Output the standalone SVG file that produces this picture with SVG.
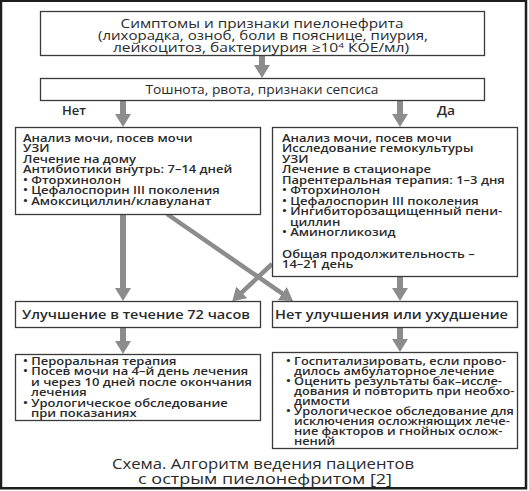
<svg xmlns="http://www.w3.org/2000/svg" width="529" height="491" viewBox="0 0 529 491">
<style>
.box{fill:#fff;stroke:#3a3a3a;stroke-width:1.3}
.t{font-family:"Open Sans","Noto Sans","Liberation Sans",sans-serif;fill:#2a2a2a}
.h{font-size:12.5px}
.c{text-anchor:middle}
.s{font-size:11px;font-weight:600}
.m{font-size:13px;font-weight:600}
.cap{font-size:14px}
.arr{stroke:#8c8c8c;stroke-width:6;fill:none}
.darr{stroke:#8c8c8c;stroke-width:4.5;fill:none}
</style>
<defs>
<marker id="ah" markerUnits="userSpaceOnUse" markerWidth="14" markerHeight="17" refX="2" refY="8" orient="auto" viewBox="0 0 14 16">
<path d="M0,0 L13,8 L0,16 z" fill="#8c8c8c"/>
</marker>
</defs>
<rect width="529" height="491" fill="#fff"/>
<rect x="1" y="0.75" width="525" height="487.5" fill="#fff" stroke="#1e1e1e" stroke-width="2.5"/>
<g id="connectors">
<line class="arr" x1="262" y1="55" x2="262" y2="67" marker-end="url(#ah)"/>
<line class="arr" x1="123" y1="101" x2="123" y2="116" marker-end="url(#ah)"/>
<line class="arr" x1="400" y1="101" x2="400" y2="116" marker-end="url(#ah)"/>
<line class="arr" x1="123" y1="214" x2="123" y2="290" marker-end="url(#ah)"/>
<line class="arr" x1="400" y1="276" x2="400" y2="290" marker-end="url(#ah)"/>
<line class="arr" x1="123" y1="327" x2="123" y2="343" marker-end="url(#ah)"/>
<line class="arr" x1="400" y1="327" x2="400" y2="341" marker-end="url(#ah)"/>
<line class="darr" x1="167" y1="214" x2="283.9" y2="294.7" marker-end="url(#ah)"/>
<line class="darr" x1="272" y1="264" x2="240.3" y2="293.8" marker-end="url(#ah)"/>
<text class="t" x="62" y="115" font-size="12" font-weight="600" textLength="24" lengthAdjust="spacingAndGlyphs">Нет</text>
<text class="t" x="437" y="115" font-size="12" font-weight="600" textLength="18" lengthAdjust="spacingAndGlyphs">Да</text>
</g>
<g id="n1">
<rect class="box" x="40.5" y="11.5" width="444" height="44"/>
<text class="t h c" x="262" y="27.5" textLength="283" lengthAdjust="spacingAndGlyphs">Симптомы и признаки пиелонефрита</text>
<text class="t h c" x="263" y="40" textLength="330" lengthAdjust="spacingAndGlyphs">(лихорадка, озноб, боли в пояснице, пиурия,</text>
<g transform="translate(261 0) scale(1.25 1)">
<text class="t h c" x="0" y="52.5">лейкоцитоз, бактериурия ≥10<tspan font-size="8" dy="-4">4</tspan><tspan dy="4"> КОЕ/мл)</tspan></text>
</g>
</g>
<g id="n2">
<rect class="box" x="40.5" y="78.5" width="444" height="22"/>
<text class="t h c" x="262" y="94" textLength="233" lengthAdjust="spacingAndGlyphs">Тошнота, рвота, признаки сепсиса</text>
</g>
<g id="n3">
<rect class="box" x="15.5" y="127.5" width="245" height="87"/>
<g transform="translate(23 0) scale(1.18 1)">
<text class="t s" x="0" y="142">Анализ мочи, посев мочи</text>
<text class="t s" x="0" y="152.5">УЗИ</text>
<text class="t s" x="0" y="163">Лечение на дому</text>
<text class="t s" x="0" y="173.5">Антибиотики внутрь: 7–14 дней</text>
<text class="t s" x="0" y="184">• Фторхинолон</text>
<text class="t s" x="0" y="194.5">• Цефалоспорин III поколения</text>
<text class="t s" x="0" y="205">• Амоксициллин/клавуланат</text>
</g>
</g>
<g id="n4">
<rect class="box" x="272.5" y="127.5" width="245" height="149"/>
<g transform="translate(282 0) scale(1.18 1)">
<text class="t s" x="0" y="142">Анализ мочи, посев мочи</text>
<text class="t s" x="0" y="152.5">Исследование гемокультуры</text>
<text class="t s" x="0" y="163">УЗИ</text>
<text class="t s" x="0" y="173.5">Лечение в стационаре</text>
<text class="t s" x="0" y="184">Парентеральная терапия: 1–3 дня</text>
<text class="t s" x="0" y="194.5">• Фторхинолон</text>
<text class="t s" x="0" y="205">• Цефалоспорин III поколения</text>
<text class="t s" x="0" y="215.5">• Ингибиторозащищенный пени-</text>
<text class="t s" x="6.8" y="226">циллин</text>
<text class="t s" x="0" y="236.5">• Аминогликозид</text>
<text class="t s" x="0" y="258">Общая продолжительность –</text>
<text class="t s" x="0" y="268.5">14–21 день</text>
</g>
</g>
<g id="n5">
<rect class="box" x="15.5" y="301.5" width="245" height="26"/>
<text class="t m" x="22" y="318.5" textLength="228" lengthAdjust="spacingAndGlyphs">Улучшение в течение 72 часов</text>
</g>
<g id="n6">
<rect class="box" x="272.5" y="301.5" width="245" height="26"/>
<text class="t m" x="275" y="318.5" textLength="233" lengthAdjust="spacingAndGlyphs">Нет улучшения или ухудшение</text>
</g>
<g id="n7">
<rect class="box" x="15.5" y="354.5" width="245" height="66"/>
<g transform="translate(23 0) scale(1.18 1)">
<text class="t s" x="0" y="365">• Пероральная терапия</text>
<text class="t s" x="0" y="375.5">• Посев мочи на 4–й день лечения</text>
<text class="t s" x="6.8" y="386">и через 10 дней после окончания</text>
<text class="t s" x="6.8" y="396.5">лечения</text>
<text class="t s" x="0" y="407">• Урологическое обследование</text>
<text class="t s" x="6.8" y="417.5">при показаниях</text>
</g>
</g>
<g id="n8">
<rect class="box" x="272.5" y="352.5" width="245" height="96"/>
<g transform="translate(286 0) scale(1.16 1)">
<text class="t s" x="0" y="365.5">• Госпитализировать, если прово-</text>
<text class="t s" x="6.9" y="375.5">дилось амбулаторное лечение</text>
<text class="t s" x="0" y="385.5">• Оценить результаты бак–иссле-</text>
<text class="t s" x="6.9" y="395.5">дования и повторить при необхо-</text>
<text class="t s" x="6.9" y="405.5">димости</text>
<text class="t s" x="0" y="415.5">• Урологическое обследование для</text>
<text class="t s" x="6.9" y="425.5">исключения осложняющих лече-</text>
<text class="t s" x="6.9" y="435.5">ние факторов и гнойных ослож-</text>
<text class="t s" x="6.9" y="445.5">нений</text>
</g>
</g>
<g id="caption">
<text class="t cap c" x="263" y="469" textLength="302" lengthAdjust="spacingAndGlyphs">Схема. Алгоритм ведения пациентов</text>
<text class="t cap c" x="265" y="484" textLength="254" lengthAdjust="spacingAndGlyphs">с острым пиелонефритом [2]</text>
</g>
</svg>
